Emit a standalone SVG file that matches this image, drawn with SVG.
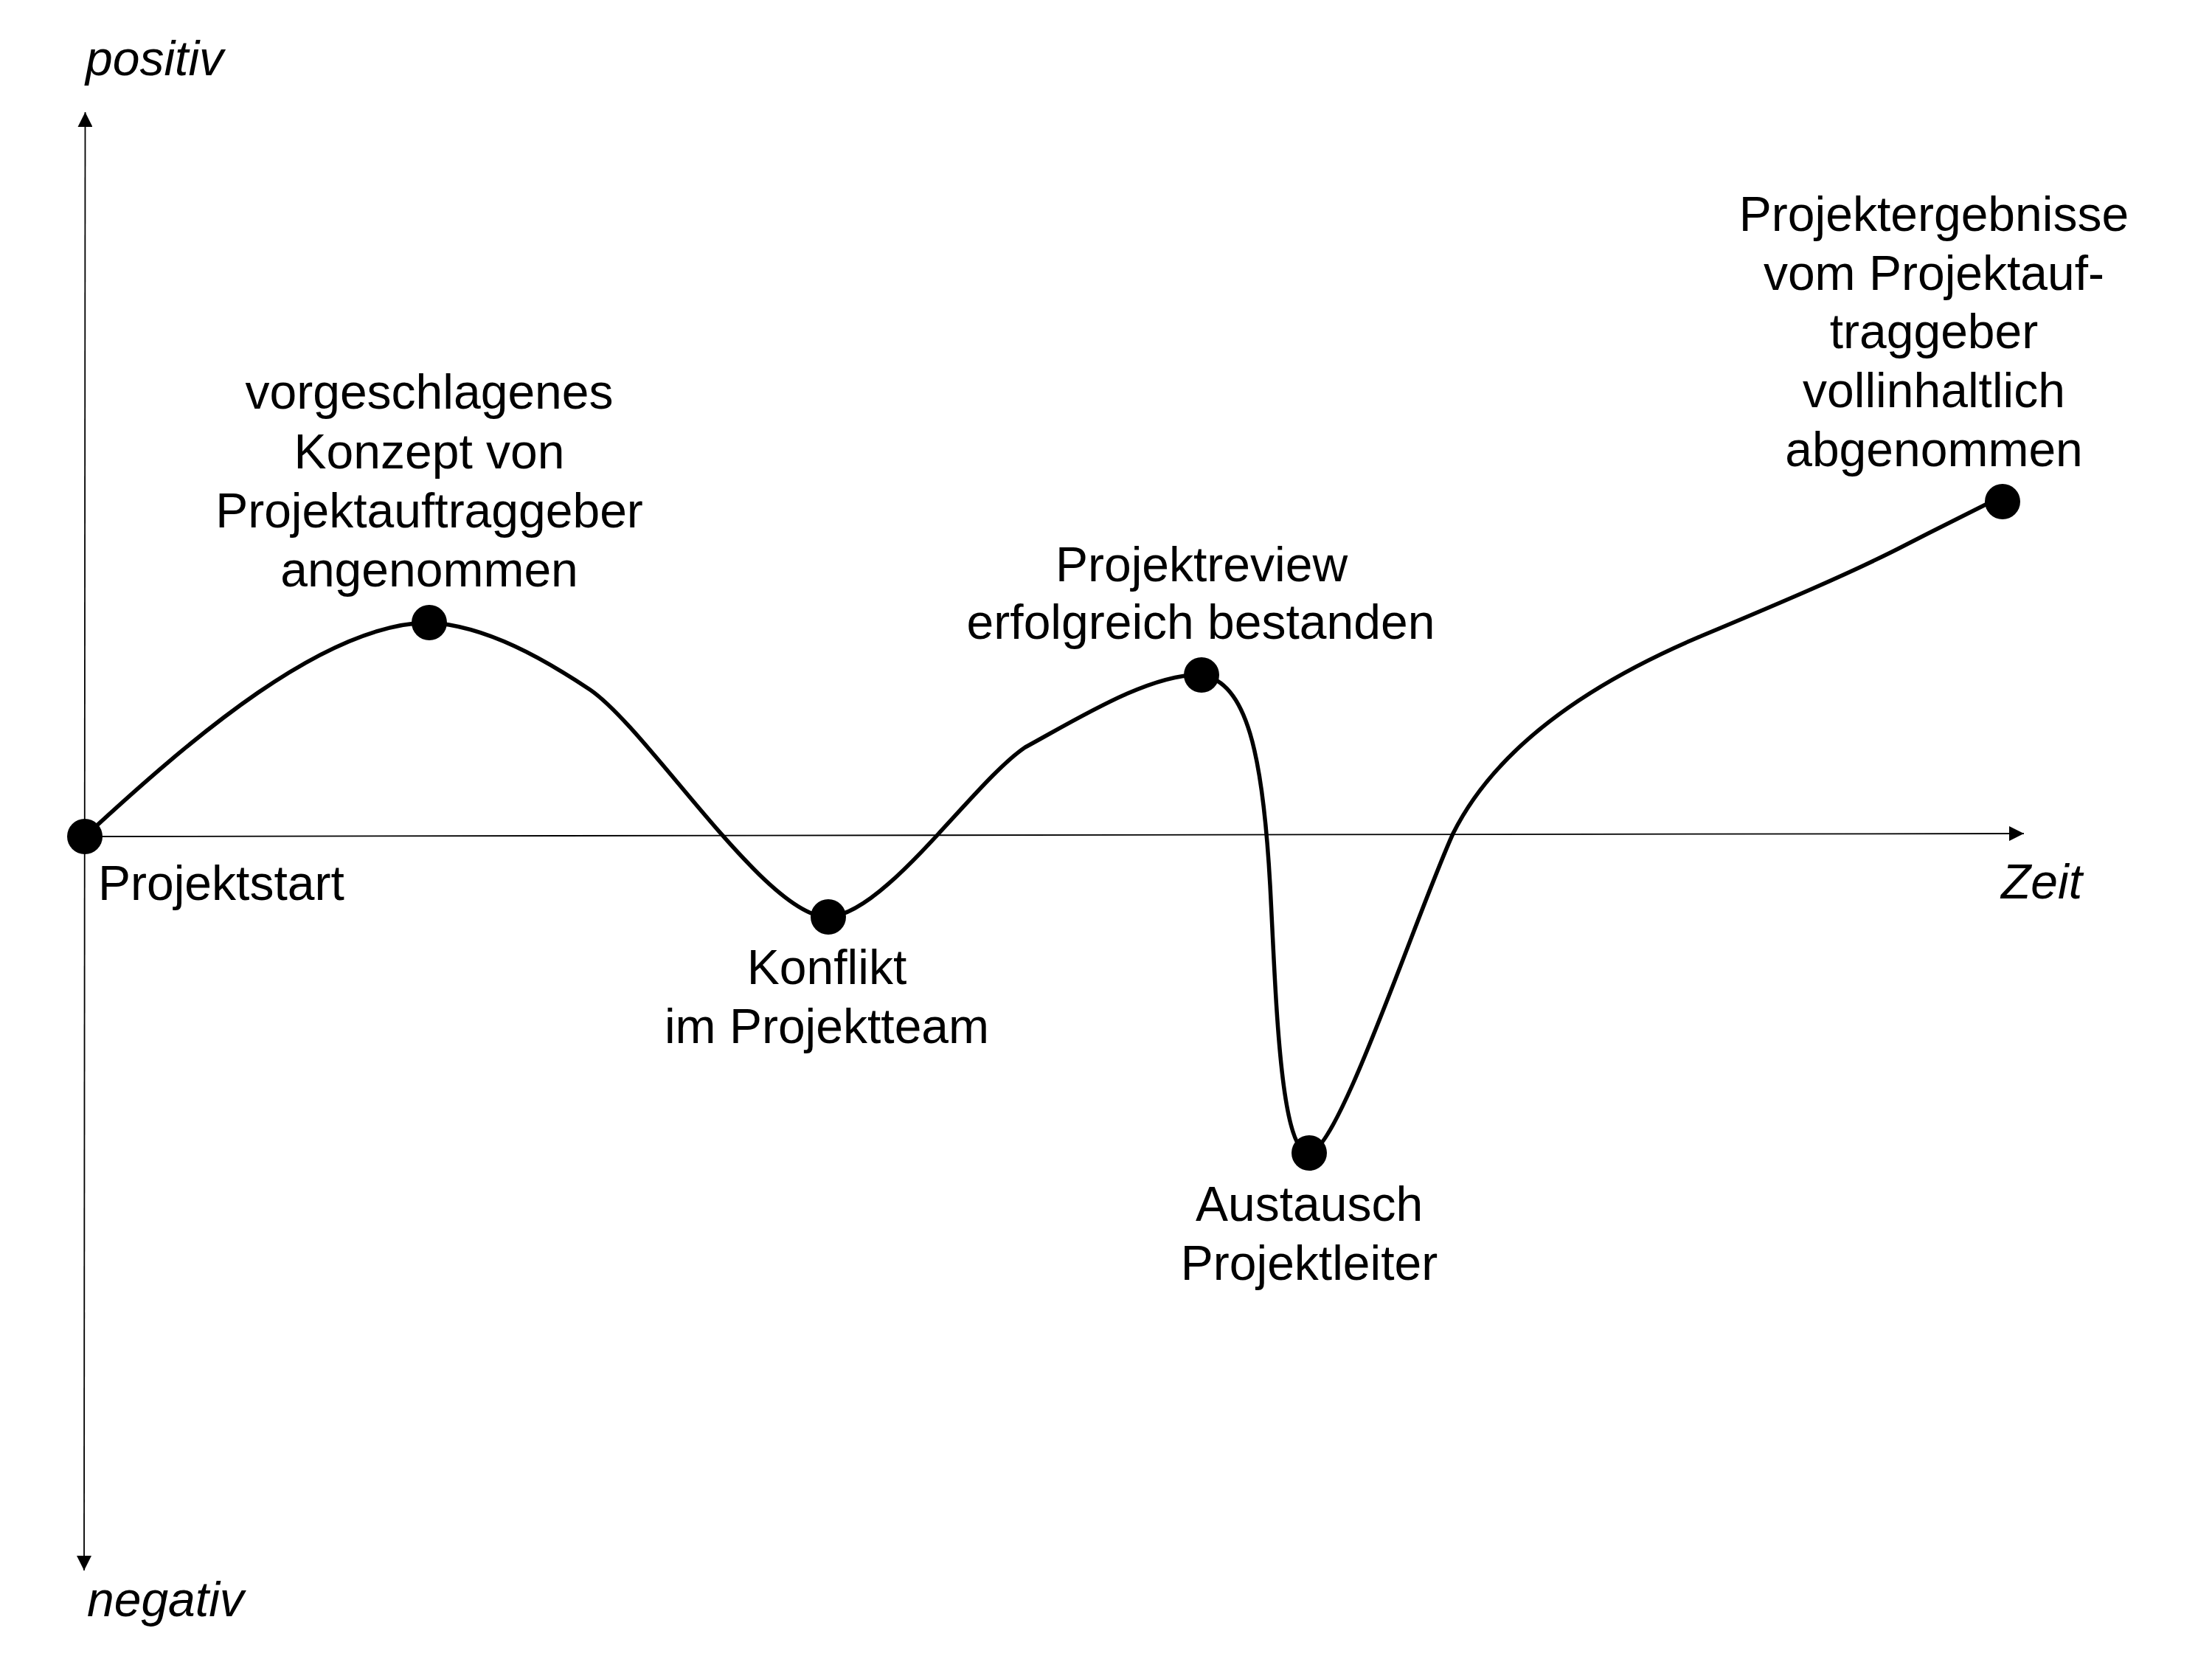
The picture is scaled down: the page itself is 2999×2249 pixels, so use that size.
<svg xmlns="http://www.w3.org/2000/svg" width="2999" height="2249" viewBox="0 0 2999 2249">
<style>
text{font-family:"Liberation Sans",Arial,Helvetica,sans-serif;font-size:66px;fill:#000}
.it{font-style:italic}
.c{text-anchor:middle}
.axis{fill:none;stroke:#000;stroke-width:1.8}
.curve{fill:none;stroke:#000;stroke-width:5.5;stroke-linejoin:round;stroke-linecap:round}
.dot{fill:#000}
</style>
<defs>
<marker id="arr" viewBox="0 0 10 10" refX="10" refY="5" markerWidth="20" markerHeight="20" markerUnits="userSpaceOnUse" orient="auto-start-reverse">
<path d="M0,0 L10,5 L0,10 z" fill="#000"/>
</marker>
</defs>
<rect width="2999" height="2249" fill="#fff"/>
<g id="connectors">
<path id="y-axis" class="axis" d="M115.5,152 L114,2129" marker-start="url(#arr)" marker-end="url(#arr)"/>
<path id="x-axis" class="axis" d="M115,1134 L2744,1130" marker-end="url(#arr)"/>
<path id="verlauf" class="curve" d="M115,1134 C260,1000 440,845 582,844 C660,848 740,895 800,935 C880,990 1040,1245 1123,1243 C1200,1240 1320,1060 1390,1013 C1460,975 1560,912 1629,915 C1690,925 1712,1020 1722,1200 C1730,1350 1735,1563 1775,1563 C1815,1560 1920,1240 1970,1130 C2030,1010 2160,925 2300,865 C2400,823 2510,777 2585,738 C2630,715 2680,690 2712,674"/>
</g>
<g id="axis-labels">
<text class="it" x="116" y="102">positiv</text>
<text class="it" x="118" y="2191">negativ</text>
<text class="it" x="2713" y="1218">Zeit</text>
</g>
<g id="node-start">
<circle class="dot" cx="115" cy="1134" r="24"/>
<text x="133" y="1220">Projektstart</text>
</g>
<g id="node-konzept">
<circle class="dot" cx="582" cy="844" r="24"/>
<text class="c" x="582" y="554">vorgeschlagenes</text>
<text class="c" x="582" y="635">Konzept von</text>
<text class="c" x="582" y="715">Projektauftraggeber</text>
<text class="c" x="582" y="795">angenommen</text>
</g>
<g id="node-konflikt">
<circle class="dot" cx="1123" cy="1243" r="24"/>
<text class="c" x="1121" y="1334">Konflikt</text>
<text class="c" x="1121" y="1414">im Projektteam</text>
</g>
<g id="node-review">
<circle class="dot" cx="1629" cy="915" r="24"/>
<text class="c" x="1629" y="788">Projektreview</text>
<text class="c" x="1628" y="866">erfolgreich bestanden</text>
</g>
<g id="node-austausch">
<circle class="dot" cx="1775" cy="1563" r="24"/>
<text class="c" x="1775" y="1655">Austausch</text>
<text class="c" x="1775" y="1735">Projektleiter</text>
</g>
<g id="node-abnahme">
<circle class="dot" cx="2715" cy="680" r="24"/>
<text class="c" x="2622" y="313">Projektergebnisse</text>
<text class="c" x="2622" y="393">vom Projektauf-</text>
<text class="c" x="2622" y="472">traggeber</text>
<text class="c" x="2622" y="552">vollinhaltlich</text>
<text class="c" x="2622" y="632">abgenommen</text>
</g>
</svg>
